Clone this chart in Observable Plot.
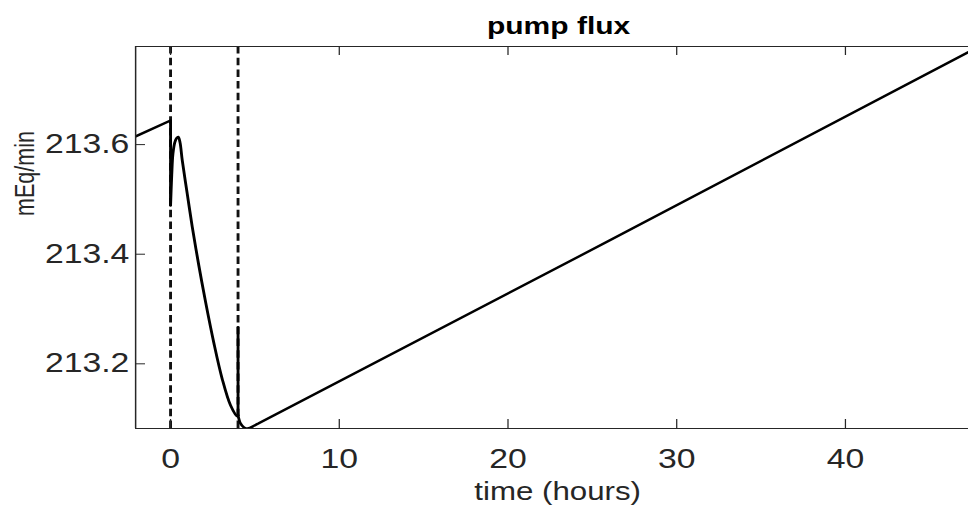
<!DOCTYPE html>
<html><head><meta charset="utf-8">
<script src="https://cdn.jsdelivr.net/npm/d3@7"></script>
<script src="https://cdn.jsdelivr.net/npm/@observablehq/plot@0.6"></script>
<style>
html,body{margin:0;padding:0;background:#fff;overflow:hidden}
#chart{width:968px;height:506px;overflow:hidden}
#chart svg{transform:scaleX(1.25);transform-origin:0 0;display:block}
</style></head><body><div id="chart"></div>
<script>
const title = "pump flux";
const xLabel = "time (hours)";
const yLabel = "mEq/min";
// segment before the first event, then the drop at t = 0
const preTime = [-2.07, 0, 0];
const preFlux = [213.615, 213.644, 213.489];
// recovery bump and decay between the two events
const decayTime = [0, 0.07, 0.14, 0.25, 0.36, 0.456, 0.56, 0.694, 0.99, 1.286, 1.678, 2.075, 2.567, 3.065, 3.557, 3.954, 4.0];
const decayFlux = [213.489, 213.545, 213.583, 213.604, 213.612, 213.614, 213.604, 213.571, 213.510, 213.450, 213.379, 213.313, 213.238, 213.172, 213.124, 213.104, 213.106];
// spike at t = 4
const spikeTime = [4.0, 4.0, 4.0];
const spikeFlux = [213.106, 213.267, 213.106];
// trough and slow linear rise
const riseTime = [4.0, 4.15, 4.35, 4.56, 5.2, 47.3];
const riseFlux = [213.106, 213.091, 213.084, 213.082, 213.091, 213.769];
const events = [0, 4];
const xTicks = [0, 10, 20, 30, 40];
const yTicks = [213.2, 213.4, 213.6];
const xDomain = [-2.07, 47.3];
const yDomain = [213.082, 213.779];

const rows = (ts, vs) => ts.map((t, i) => ({t, v: vs[i]}));
const SX = 1.25;
const W = 968 / SX, H = 506;
const mL = 108, mT = 46, mB = 78;
const frameH = H - mT - mB;
const ink = "#262626";
const font = "'Liberation Sans', Arial, Helvetica, sans-serif";
const lineStyle = {x: "t", y: "v", stroke: "#000", strokeWidth: 2.3, clip: true};

const chart = Plot.plot({
  width: W, height: H,
  marginLeft: mL, marginRight: 0, marginTop: mT, marginBottom: mB,
  style: {fontFamily: font, color: ink, background: "#fff", overflow: "visible"},
  x: {domain: xDomain},
  y: {domain: yDomain},
  marks: [
    Plot.ruleX(events, {x: d => d, stroke: "#111", strokeWidth: 2.3, strokeDasharray: "7.5,4.2"}),
    Plot.line(rows(preTime, preFlux), {...lineStyle}),
    Plot.line(rows(decayTime, decayFlux), {...lineStyle, curve: "catmull-rom"}),
    Plot.line(rows(spikeTime, spikeFlux), {...lineStyle}),
    Plot.line(rows(riseTime, riseFlux), {...lineStyle, curve: "catmull-rom"}),
    Plot.ruleY([yDomain[0], yDomain[1]], {y: d => d, stroke: ink, strokeWidth: 1.2}),
    Plot.ruleX([xDomain[0]], {x: d => d, stroke: ink, strokeWidth: 1.2}),
    Plot.tickX(xTicks, {x: d => d, stroke: ink, insetTop: frameH - 9}),
    Plot.tickX(xTicks, {x: d => d, stroke: ink, insetBottom: frameH - 9}),
    Plot.tickY(yTicks, {y: d => d, stroke: ink, insetRight: (W - mL) - 8}),
    Plot.axisX(xTicks, {tickSize: 0, tickPadding: 20, fontSize: 27, tickFormat: d3.format("d"), label: null}),
    Plot.axisY(yTicks, {tickSize: 0, tickPadding: 5, fontSize: 27, tickFormat: d3.format(".1f"), label: null}),
    Plot.text([title], {text: d => d, frameAnchor: "top", textAnchor: "middle", lineAnchor: "middle", dx: 5.2, dy: -20.2, fontSize: 24, fontWeight: "bold", fill: "#000"}),
    Plot.text([xLabel], {text: d => d, frameAnchor: "bottom", textAnchor: "middle", lineAnchor: "middle", dx: 4.4, dy: 64, fontSize: 25, fill: ink}),
    Plot.text([yLabel], {text: d => d, frameAnchor: "left", textAnchor: "middle", lineAnchor: "middle", dx: -88, dy: -64, rotate: -90, fontSize: 21.5, fill: ink})
  ]
});
document.getElementById("chart").append(chart);
</script></body></html>
